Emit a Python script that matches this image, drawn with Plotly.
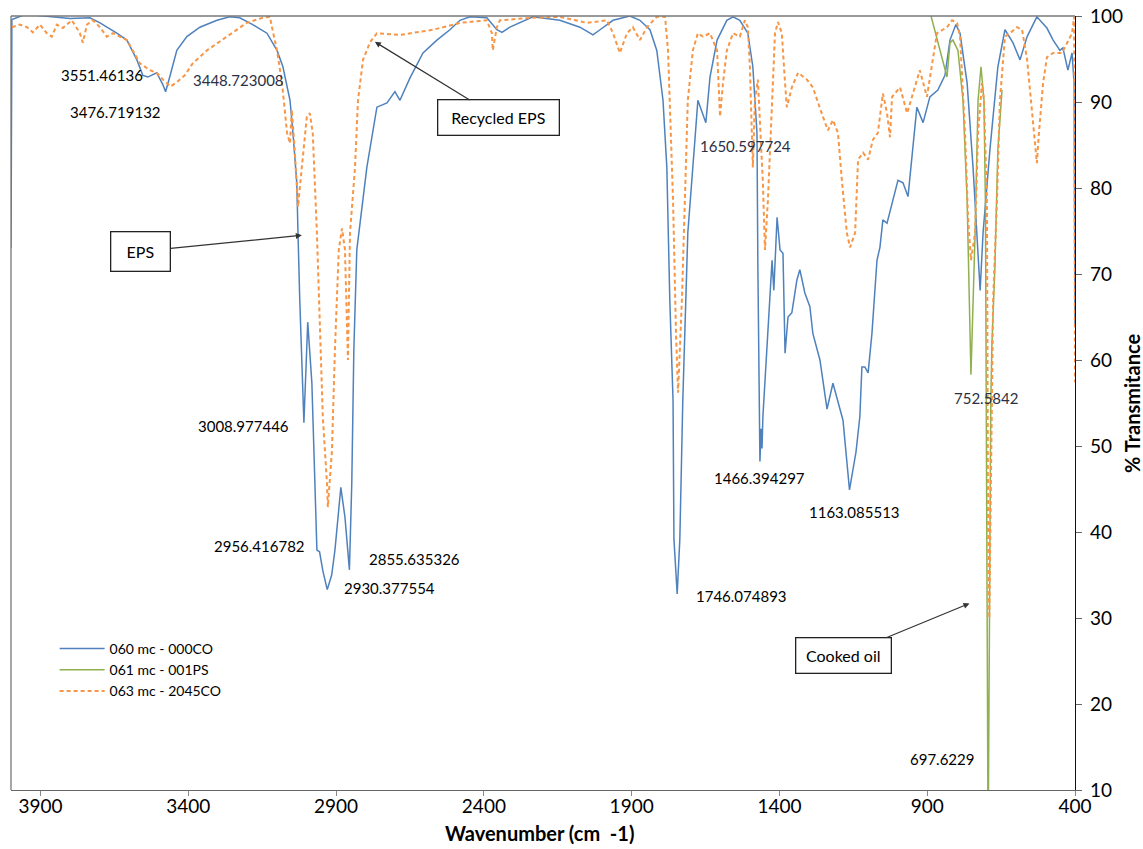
import plotly.graph_objects as go

# ---------------- data (wavenumber cm-1, % transmittance) ----------------
eps_wn = [4000, 3997, 3950, 3869, 3800, 3733, 3699, 3642, 3608, 3574, 3554, 3537, 3507, 3486, 3477,
          3463, 3439, 3405, 3361, 3303, 3260, 3226, 3182, 3134, 3100, 3080, 3056, 3046, 3033, 3029,
          3023, 3009, 2996, 2982, 2972, 2965, 2956, 2945, 2930, 2915, 2904, 2884, 2870, 2855, 2847,
          2840, 2830, 2796, 2762, 2728, 2701, 2684, 2650, 2606, 2559, 2515, 2481, 2447, 2390, 2356,
          2339, 2312, 2234, 2143, 2075, 2031, 2007, 1963, 1906, 1872, 1838, 1815, 1794, 1781, 1771,
          1760, 1757, 1746, 1737, 1727, 1710, 1696, 1686, 1676, 1659, 1649, 1635, 1611, 1578, 1557,
          1534, 1507, 1490, 1476, 1473, 1469, 1466, 1462, 1459, 1456, 1425, 1419, 1408, 1398, 1388,
          1381, 1371, 1358, 1341, 1331, 1314, 1297, 1287, 1263, 1239, 1219, 1202, 1185, 1163, 1141,
          1128, 1121, 1111, 1100, 1087, 1070, 1060, 1050, 1036, 1016, 999, 982, 965, 935, 914, 891,
          864, 840, 823, 803, 789, 765, 745, 721, 711, 688, 661, 637, 610, 586, 562, 529, 495, 474,
          451, 441, 424, 410, 403, 400]
eps_t = [73.0, 99.6, 100.2, 99.9, 99.7, 99.8, 99.2, 98.0, 97.2, 94.9, 93.1, 92.9, 93.4, 92.0, 91.2,
         92.9, 96.0, 97.6, 98.7, 99.5, 99.9, 99.8, 99.0, 98.0, 96.0, 94.1, 90.2, 86.4, 80.6, 74.8,
         67.0, 52.7, 64.4, 57.3, 45.7, 37.9, 37.7, 35.5, 33.3, 35.0, 37.9, 45.2, 41.7, 35.6, 45.7,
         61.2, 72.8, 82.4, 89.4, 89.9, 91.2, 90.2, 92.8, 95.7, 97.2, 98.4, 99.5, 99.9, 99.8, 98.4,
         98.1, 98.7, 99.9, 99.5, 98.7, 97.8, 98.4, 99.5, 100.0, 99.5, 98.4, 96.0, 90.2, 82.4, 67.0,
         55.3, 39.2, 32.8, 39.2, 55.3, 74.8, 80.6, 85.6, 90.2, 88.7, 87.6, 92.9, 97.2, 99.5, 99.9,
         99.5, 98.0, 94.1, 86.4, 70.8, 53.4, 48.2, 52.0, 49.7, 53.4, 71.6, 68.1, 76.6, 72.8, 72.4,
         60.8, 65.0, 65.5, 69.3, 70.5, 67.8, 66.2, 63.1, 60.0, 54.3, 57.3, 55.3, 53.0, 44.9, 49.3,
         53.4, 59.2, 59.2, 58.5, 63.1, 71.6, 73.1, 76.3, 75.9, 78.6, 80.9, 80.6, 79.0, 89.4, 87.6, 90.6,
         91.4, 93.1, 97.2, 99.0, 98.0, 92.2, 82.4, 68.1, 74.8, 84.4, 94.1, 98.4, 96.9, 94.9, 97.6, 99.9,
         98.6, 97.2, 96.0, 96.3, 93.7, 95.7, 92.2, 64.0]

ps_wn = [897, 833, 823, 813, 796, 779, 765, 759, 752, 738, 728, 718, 708, 703, 700, 694, 685, 681,
         671, 661, 647]
ps_t = [101.3, 92.9, 96.9, 97.2, 96.0, 90.2, 78.6, 67.0, 58.3, 74.8, 90.2, 94.1, 90.2, 78.0, 55.0,
        3.0, 55.0, 62.0, 70.8, 84.4, 91.4]

rec_wn = [3997, 3970, 3946, 3926, 3902, 3879, 3862, 3845, 3825, 3794, 3767, 3757, 3743, 3723, 3699,
          3676, 3655, 3632, 3608, 3588, 3564, 3530, 3507, 3486, 3460, 3439, 3412, 3385, 3337, 3270,
          3202, 3148, 3124, 3117, 3100, 3083, 3066, 3056, 3050, 3040, 3029, 3016, 2999, 2989, 2979,
          2965, 2955, 2945, 2931, 2928, 2914, 2904, 2891, 2880, 2870, 2860, 2853, 2836, 2826, 2809,
          2786, 2762, 2684, 2572, 2481, 2390, 2373, 2370, 2356, 2346, 2234, 2143, 2051, 1984, 1963,
          1940, 1916, 1896, 1872, 1848, 1815, 1787, 1777, 1767, 1760, 1750, 1743, 1730, 1720, 1710,
          1693, 1676, 1659, 1635, 1611, 1601, 1591, 1578, 1557, 1534, 1517, 1507, 1500, 1490, 1483,
          1473, 1456, 1449, 1439, 1425, 1415, 1405, 1392, 1381, 1375, 1358, 1337, 1307, 1287, 1253,
          1236, 1219, 1202, 1188, 1172, 1161, 1144, 1134, 1117, 1100, 1084, 1067, 1050, 1036, 1026,
          1019, 992, 968, 948, 925, 901, 891, 867, 833, 816, 799, 789, 772, 762, 752, 738, 728, 715,
          708, 698, 694, 690, 677, 664, 654, 637, 620, 596, 579, 562, 546, 529, 522, 508, 495, 474,
          444, 427, 410, 403, 400]
rec_t = [98.7, 99.0, 98.7, 98.1, 99.0, 98.0, 97.6, 99.0, 98.6, 99.5, 98.0, 96.9, 99.0, 99.5, 98.7,
         97.6, 98.0, 97.6, 97.2, 96.0, 94.5, 93.7, 93.4, 92.6, 91.8, 92.3, 93.1, 94.5, 96.0, 97.6,
         99.2, 99.8, 99.9, 98.7, 96.0, 92.2, 86.4, 85.2, 89.1, 84.4, 77.8, 82.4, 88.3, 88.7, 86.4,
         74.8, 65.0, 53.4, 45.7, 42.9, 49.5, 61.2, 72.8, 75.3, 72.8, 60.0, 74.8, 82.4, 90.2, 94.9,
         96.9, 98.0, 97.8, 98.4, 99.2, 99.5, 98.0, 96.0, 98.7, 99.5, 99.8, 99.9, 99.2, 99.5, 98.0,
         95.7, 98.0, 98.7, 97.2, 98.7, 99.9, 99.9, 96.0, 86.4, 78.6, 63.1, 56.2, 67.0, 78.6, 90.2,
         96.0, 98.0, 97.6, 98.0, 96.0, 88.3, 92.2, 96.0, 98.0, 97.6, 99.5, 98.7, 94.1, 82.4, 90.2,
         92.6, 80.6, 72.8, 78.6, 90.2, 98.0, 99.3, 98.0, 92.2, 89.4, 91.7, 93.4, 92.6, 91.7, 88.3,
         86.7, 87.9, 86.4, 80.6, 74.8, 73.1, 74.8, 83.3, 84.1, 83.3, 85.6, 86.4, 91.0, 88.7, 85.9,
         90.6, 91.7, 88.7, 91.0, 93.7, 90.6, 92.9, 98.0, 98.7, 99.5, 99.2, 97.6, 86.4, 76.6, 71.6,
         74.8, 86.4, 92.2, 90.2, 78.6, 40.0, 30.0, 67.0, 78.6, 90.2, 97.6, 98.0, 98.7, 98.4, 94.9,
         89.1, 82.9, 86.4, 92.2, 95.2, 95.7, 95.7, 96.9, 98.0, 99.9, 57.4]

series_names = ["060 mc - 000CO", "061 mc - 001PS", "063 mc - 2045CO"]

x_ticks = [3900, 3400, 2900, 2400, 1900, 1400, 900, 400]
y_ticks = [10, 20, 30, 40, 50, 60, 70, 80, 90, 100]

peak_labels = ["3551.46136", "3476.719132", "3448.723008", "3008.977446", "2956.416782",
               "2930.377554", "2855.635326", "1746.074893", "1650.597724", "1466.394297",
               "1163.085513", "752.5842", "697.6229"]
peak_label_x = [3693, 3645, 3229, 3212, 3158, 2719, 2634, 1527, 1515, 1467, 1145, 702, 849]
peak_label_y = [93.1, 88.8, 92.6, 52.3, 38.4, 33.5, 36.9, 32.6, 84.9, 46.3, 42.3, 55.6, 13.6]
peak_label_color = ["#000", "#000", "#2b3045", "#000", "#000", "#000", "#000", "#000",
                    "#2b3045", "#000", "#000", "#2b3045", "#000"]

FONT = "Lato"

fig = go.Figure()
fig.add_trace(go.Scatter(x=eps_wn, y=eps_t, mode="lines", name=series_names[0],
                         line=dict(color="#4F81BD", width=1.5)))
fig.add_trace(go.Scatter(x=ps_wn, y=ps_t, mode="lines", name=series_names[1],
                         line=dict(color="#8FB04E", width=1.5)))
fig.add_trace(go.Scatter(x=rec_wn, y=rec_t, mode="lines", name=series_names[2],
                         line=dict(color="#F79646", width=2, dash="4px,3px")))

annotations = []
for txt, ax_, ay_, col in zip(peak_labels, peak_label_x, peak_label_y, peak_label_color):
    annotations.append(dict(x=ax_, y=ay_, xref="x", yref="y", text=txt, showarrow=False,
                            font=dict(family=FONT, size=15, color=col)))

box_style = dict(showarrow=True, arrowhead=2, arrowsize=1, arrowwidth=1.2, arrowcolor="#333",
                 bordercolor="#222", borderwidth=1.3, bgcolor="white",
                 font=dict(family=FONT, size=16, color="#000"), xref="x", yref="y", axref="pixel",
                 ayref="pixel")
annotations.append(dict(x=3016, y=74.5, ax=-161, ay=16, text="EPS", width=56, height=36,
                        borderpad=1, **box_style))
annotations.append(dict(x=2769, y=97.0, ax=124, ay=76, text="Recycled EPS", width=118, height=32,
                        borderpad=1, **box_style))
annotations.append(dict(x=757, y=31.7, ax=-126, ay=52, text="Cooked oil", width=92, height=32,
                        borderpad=1, **box_style))
annotations.append(dict(x=1.0535, y=0.5, xref="paper", yref="paper", xanchor="center",
                        yanchor="middle", text="<b>% Transmitance</b>", textangle=-90,
                        showarrow=False, font=dict(family=FONT, size=20, color="#000")))
annotations.append(dict(x=0.497, y=-0.0556, xref="paper", yref="paper", xanchor="center",
                        yanchor="middle", text="<b>Wavenumber (cm  -1)</b>",
                        showarrow=False, font=dict(family=FONT, size=20, color="#000")))

fig.update_layout(
    width=1143, height=849,
    margin=dict(l=11, r=68, t=16, b=59, autoexpand=False),
    paper_bgcolor="white", plot_bgcolor="white",
    font=dict(family=FONT, color="#000"),
    showlegend=True,
    legend=dict(x=0.041, y=0.203, xanchor="left", yanchor="top", bgcolor="rgba(0,0,0,0)",
                font=dict(family=FONT, size=14, color="#000"), itemwidth=45, tracegroupgap=0),
    annotations=annotations,
    xaxis=dict(range=[4000, 400], tickvals=x_ticks, ticktext=[str(v) for v in x_ticks],
               automargin=False, ticklabelstandoff=-6,
               showgrid=False, zeroline=False, showline=True, linecolor="#666", linewidth=1.3,
               ticks="outside", ticklen=5, tickcolor="#888", mirror=False,
               tickfont=dict(family=FONT, size=19, color="#000")),
    yaxis=dict(range=[10, 100], side="right", tickvals=y_ticks, showgrid=False, zeroline=False,
               automargin=False, ticklabelstandoff=4,
               showline=True, linecolor="#111", linewidth=1.3, ticks="outside", ticklen=6,
               tickcolor="#666", tickfont=dict(family=FONT, size=19, color="#000")),
    shapes=[
        dict(type="line", xref="paper", yref="paper", x0=0, x1=1, y0=1, y1=1,
             line=dict(color="#777", width=1.3)),
        dict(type="line", xref="paper", yref="paper", x0=0, x1=0, y0=0, y1=1,
             line=dict(color="#777", width=1.3)),
    ],
)

fig.write_html("out.html", config={"displayModeBar": False},
               post_script="document.body.style.margin='0px';")
